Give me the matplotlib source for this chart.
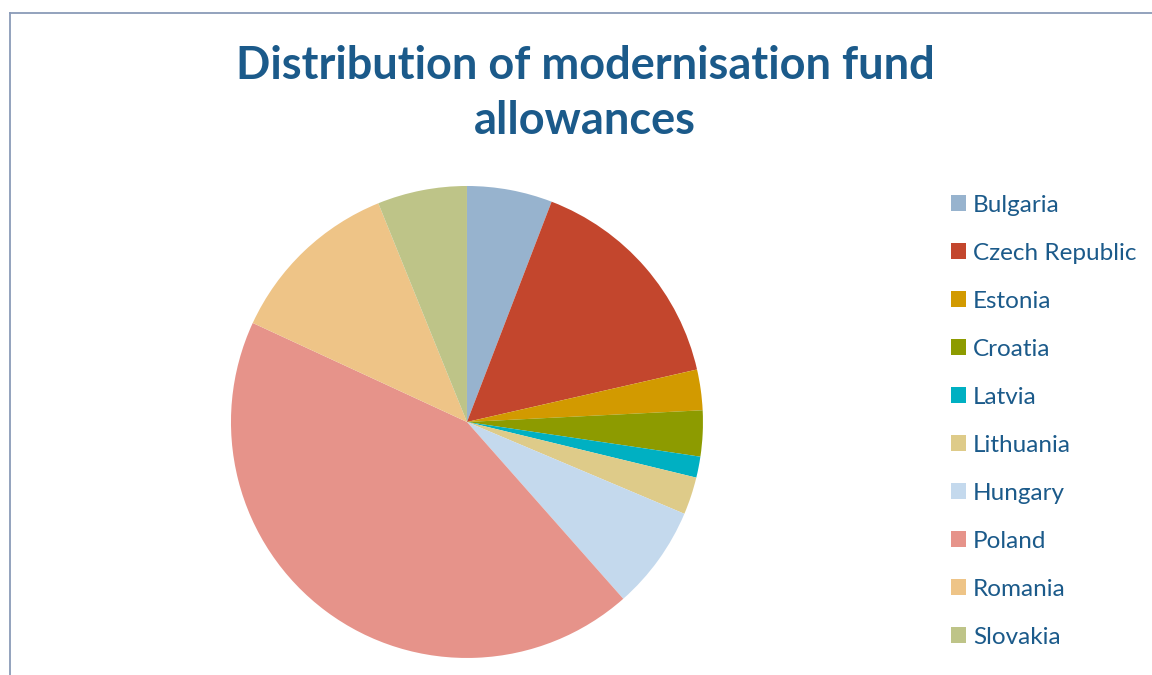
import matplotlib.pyplot as plt
from matplotlib.lines import Line2D

countries = ['Bulgaria', 'Czech Republic', 'Estonia', 'Croatia', 'Latvia',
             'Lithuania', 'Hungary', 'Poland', 'Romania', 'Slovakia']
shares = [5.84, 15.59, 2.78, 3.14, 1.44, 2.57, 7.12, 43.41, 11.98, 6.13]
colors = ['#97B3CE', '#C3462D', '#D29A00', '#8D9B00', '#00B0C2',
          '#DECB89', '#C4D9ED', '#E6938A', '#EEC487', '#BEC488']

title_color = '#1B5A8A'
frame_color = '#8A9BB8'

plt.rcParams['font.family'] = ['Lato', 'DejaVu Sans']

fig = plt.figure(figsize=(11.52, 6.75), dpi=100)

# pie axes, placed so the pie is centred at about (467, 422) px
ax = fig.add_axes([0.2005, 0.0252, 0.4097, 0.6993])
wedges, _ = ax.pie(shares, colors=colors, startangle=90, counterclock=False,
                   radius=1.0, wedgeprops=dict(linewidth=0))
ax.set_xlim(-1, 1)
ax.set_ylim(-1, 1)
ax.set_aspect('equal')
ax.axis('off')

fig.text(0.508, 0.861, 'Distribution of modernisation fund\nallowances',
         ha='center', va='center', fontsize=32.5, fontweight='bold',
         color=title_color, linespacing=1.38)

fig.legend(wedges, countries, loc='upper left',
           bbox_to_anchor=(0.815, 0.7295), frameon=False, fontsize=17.5,
           labelcolor=title_color, handlelength=0.62, handleheight=0.62,
           handletextpad=0.29, labelspacing=1.11, borderpad=0)

# chart area frame (left and top edges visible)
fig.add_artist(Line2D([10 / 1152, 10 / 1152], [0, 1 - 13 / 675],
                      transform=fig.transFigure, color=frame_color, lw=1.3))
fig.add_artist(Line2D([10 / 1152, 1], [1 - 13 / 675, 1 - 13 / 675],
                      transform=fig.transFigure, color=frame_color, lw=1.3))

fig.savefig('out.png', dpi=100)
